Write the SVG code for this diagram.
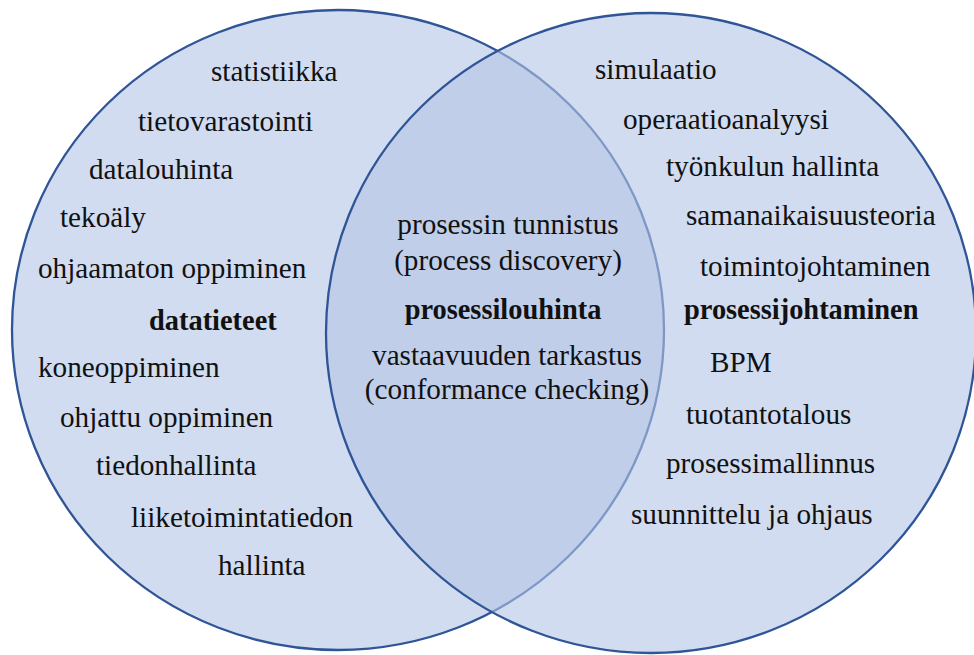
<svg xmlns="http://www.w3.org/2000/svg" width="974" height="655" viewBox="0 0 974 655">
  <style>
    .set { stroke: #2F5597; stroke-width: 2.3; }
    .left { fill: #D1DCF0; }
    .right { fill: rgb(180,197,230); fill-opacity: 0.6; }
    text { font-family: "Liberation Serif", "Times New Roman", serif; font-size: 29.2px; fill: #111; }
    .b { font-weight: bold; font-size: 28.4px; }
    .c { text-anchor: middle; }
  </style>
  <rect width="974" height="655" fill="#FFFFFF"/>
  <g id="data-science">
    <ellipse class="set left" cx="338" cy="330" rx="326" ry="320"/>
  </g>
  <g id="process-management">
    <ellipse class="set right" cx="651" cy="333" rx="325" ry="320"/>
  </g>
  <g id="data-science-labels">
    <text x="211" y="81">statistiikka</text>
    <text x="138" y="131">tietovarastointi</text>
    <text x="89" y="179">datalouhinta</text>
    <text x="60" y="227">tekoäly</text>
    <text x="38" y="278">ohjaamaton oppiminen</text>
    <text x="149" y="330" class="b">datatieteet</text>
    <text x="38" y="377">koneoppiminen</text>
    <text x="60" y="427">ohjattu oppiminen</text>
    <text x="96" y="475">tiedonhallinta</text>
    <text x="131" y="527">liiketoimintatiedon</text>
    <text x="218" y="575">hallinta</text>
  </g>
  <g id="process-mining-labels">
    <text x="508" y="234" class="c">prosessin tunnistus</text>
    <text x="508" y="270" class="c">(process discovery)</text>
    <text x="503" y="319" class="c b">prosessilouhinta</text>
    <text x="507" y="365" class="c">vastaavuuden tarkastus</text>
    <text x="507" y="399" class="c">(conformance checking)</text>
  </g>
  <g id="process-management-labels">
    <text x="595" y="79">simulaatio</text>
    <text x="623" y="129">operaatioanalyysi</text>
    <text x="666" y="176">työnkulun hallinta</text>
    <text x="686" y="225">samanaikaisuusteoria</text>
    <text x="700" y="276">toimintojohtaminen</text>
    <text x="684" y="319" class="b">prosessijohtaminen</text>
    <text x="710" y="372">BPM</text>
    <text x="686" y="424">tuotantotalous</text>
    <text x="666" y="473">prosessimallinnus</text>
    <text x="631" y="524">suunnittelu ja ohjaus</text>
  </g>
  <g id="connectors"/>
</svg>
